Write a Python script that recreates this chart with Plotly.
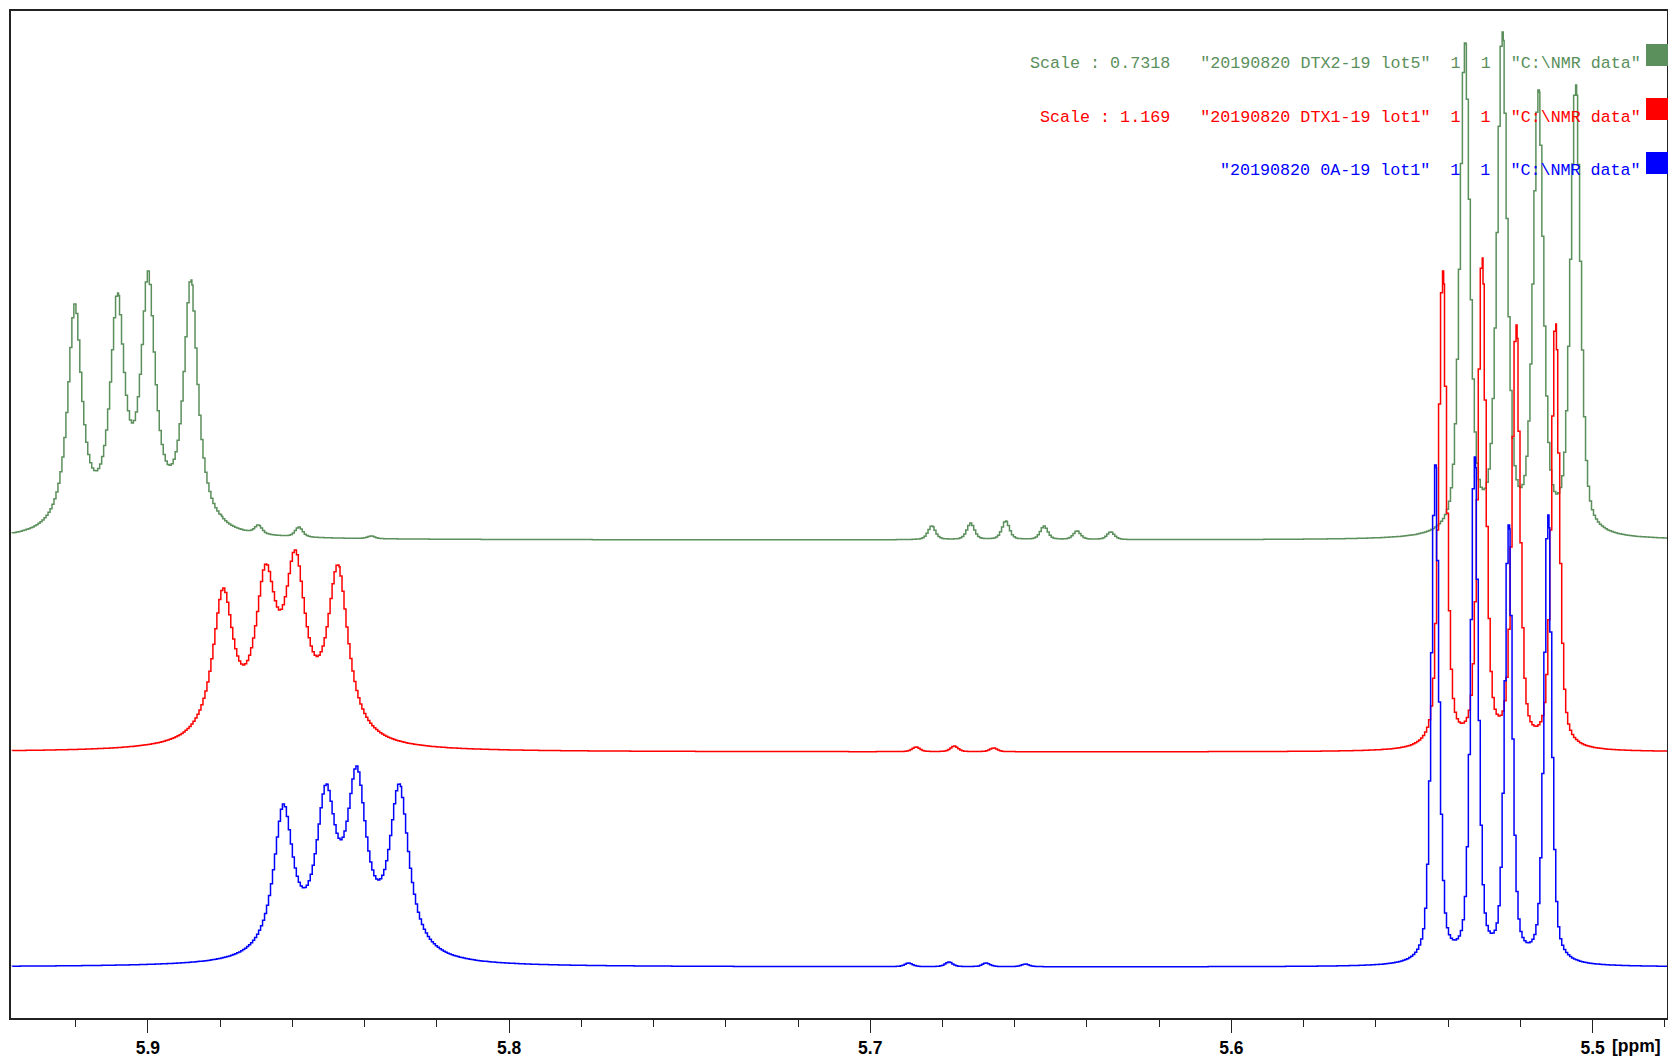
import numpy as np
import plotly.graph_objects as go

# ---------------- data ----------------
ppm_left, ppm_right = 5.9379, 5.4794
tick_vals = [5.9, 5.8, 5.7, 5.6, 5.5]
tick_text = ["5.9", "5.8", "5.7", "5.6", "5.5"]

# green trace: "20190820 DTX2-19 lot5", scale 0.7318
green_ppm = [5.91992, 5.90814, 5.89960, 5.88782,
             5.53505, 5.52474, 5.51473, 5.50442,
             5.87956, 5.86913, 5.85788, 5.83785,
             5.68268, 5.67190, 5.66221, 5.65160, 5.64247, 5.63314]
green_top = [236, 247, 269, 260,
             497, 508, 450, 455,
             25, 15, 13, 4,
             14, 17, 19, 14, 9, 8]
green_fwhm = [0.00471] * 4 + [0.00332] * 4 + [0.00249] * 10
green_eta = [1.0] * 4 + [0.5] * 4 + [0.5] * 10
green_base = 478

# red trace: "20190820 DTX1-19 lot1", scale 1.169
red_ppm = [5.87889, 5.86711, 5.85886, 5.84708,
           5.54124, 5.53034, 5.52091, 5.51001,
           5.68704, 5.67644, 5.66554]
red_top = [164, 188, 202, 187,
           481, 494, 427, 428,
           5, 6, 4]
red_fwhm = [0.00692] * 4 + [0.00263] * 4 + [0.00249] * 3
red_eta = [1.0] * 4 + [0.5] * 4 + [0.5] * 3
red_base = 266

# blue trace: "20190820 0A-19 lot1"
blue_ppm = [5.86220, 5.85042, 5.84187, 5.83009,
            5.54330, 5.53240, 5.52298, 5.51208,
            5.68910, 5.67791, 5.66760, 5.65670]
blue_top = [163, 183, 201, 183,
            502, 510, 442, 452,
            4, 5, 4, 3]
blue_fwhm = [0.0065] * 4 + [0.00249] * 4 + [0.00249] * 4
blue_eta = [1.0] * 4 + [0.5] * 4 + [0.5] * 4
blue_base = 51

legend_text = [
    'Scale : 0.7318   "20190820 DTX2-19 lot5"  1  1  "C:\\NMR data"',
    'Scale : 1.169   "20190820 DTX1-19 lot1"  1  1  "C:\\NMR data"',
    '"20190820 0A-19 lot1"  1  1  "C:\\NMR data"',
]
colors = ["#5b8f5b", "#ff0000", "#0000ff"]

# ---------------- line shapes ----------------
grid = np.arange(ppm_right, ppm_left, 0.00055)


def shape(d, w, eta):
    lor = 1.0 / (1.0 + (2.0 * d / w) ** 2)
    gau = np.exp(-4.0 * np.log(2.0) * (d / w) ** 2)
    return eta * lor + (1.0 - eta) * gau


def spectrum(pos, top, fwhm, eta, base):
    pos = np.asarray(pos, float)
    top = np.asarray(top, float)
    fwhm = np.asarray(fwhm, float)
    eta = np.asarray(eta, float)
    x = np.union1d(grid, pos)
    m = shape(pos[:, None] - pos[None, :], fwhm[None, :], eta[None, :])
    amp = np.linalg.solve(m, top)
    y = np.full_like(x, float(base))
    for a, p, w, e in zip(amp, pos, fwhm, eta):
        y += a * shape(x - p, w, e)
    return x, y


traces = [
    spectrum(green_ppm, green_top, green_fwhm, green_eta, green_base),
    spectrum(red_ppm, red_top, red_fwhm, red_eta, red_base),
    spectrum(blue_ppm, blue_top, blue_fwhm, blue_eta, blue_base),
]

fig = go.Figure()
for (xx, yy), c in zip(traces, colors):
    fig.add_trace(go.Scatter(x=xx, y=yy, mode="lines", line=dict(color=c, width=1.5, shape="hv"),
                             hoverinfo="skip"))

# ---------------- layout ----------------
W, H = 1668, 1058
L, R, T, B = 11, 1, 11, 40
pw, ph = W - L - R, H - T - B


def pxx(px):
    return (px - L) / pw


def pxy(py):
    return (H - B - py) / ph


for i, (txt, c) in enumerate(zip(legend_text, colors)):
    yc = [63, 117, 170][i]
    fig.add_annotation(x=pxx(1643), y=pxy(yc), xref="paper", yref="paper",
                       text=txt.replace(" ", "\u00a0"), showarrow=False,
                       xanchor="right", yanchor="middle",
                       font=dict(family="Liberation Mono, Courier New, monospace", size=16.7, color=c))
    sq = [(44, 66), (98, 120), (152, 174)][i]
    fig.add_shape(type="rect", xref="paper", yref="paper",
                  x0=pxx(1646), x1=pxx(1668), y0=pxy(sq[1]), y1=pxy(sq[0]),
                  fillcolor=c, line=dict(width=0))

fig.add_annotation(x=pxx(1636), y=pxy(1046), xref="paper", yref="paper", text="[ppm]",
                   showarrow=False, xanchor="center", yanchor="middle",
                   font=dict(family="Liberation Sans, Arial", size=17.5, color="black", weight="bold"))

fig.update_layout(
    width=W, height=H, margin=dict(l=L, r=R, t=T, b=B, autoexpand=False),
    paper_bgcolor="white", plot_bgcolor="white", showlegend=False,
    xaxis=dict(range=[ppm_left, ppm_right], tickmode="array", tickvals=tick_vals, ticktext=tick_text,
               ticks="outside", ticklen=13, tickwidth=1.3, tickcolor="#222",
               showline=True, linecolor="#222", linewidth=1.5, mirror=True,
               showgrid=False, zeroline=False, ticklabelstandoff=0,
               tickfont=dict(family="Liberation Sans, Arial", size=17.5, color="black", weight="bold"),
               minor=dict(dtick=0.02, tick0=5.5, ticks="outside", ticklen=7, tickwidth=1.3,
                          tickcolor="#222", showgrid=False)),
    yaxis=dict(range=[0, ph], showticklabels=False, ticks="", showgrid=False, zeroline=False,
               showline=True, linecolor="#222", linewidth=1.5, mirror=True),
)

fig.write_html("out.html", config={"displayModeBar": False})
